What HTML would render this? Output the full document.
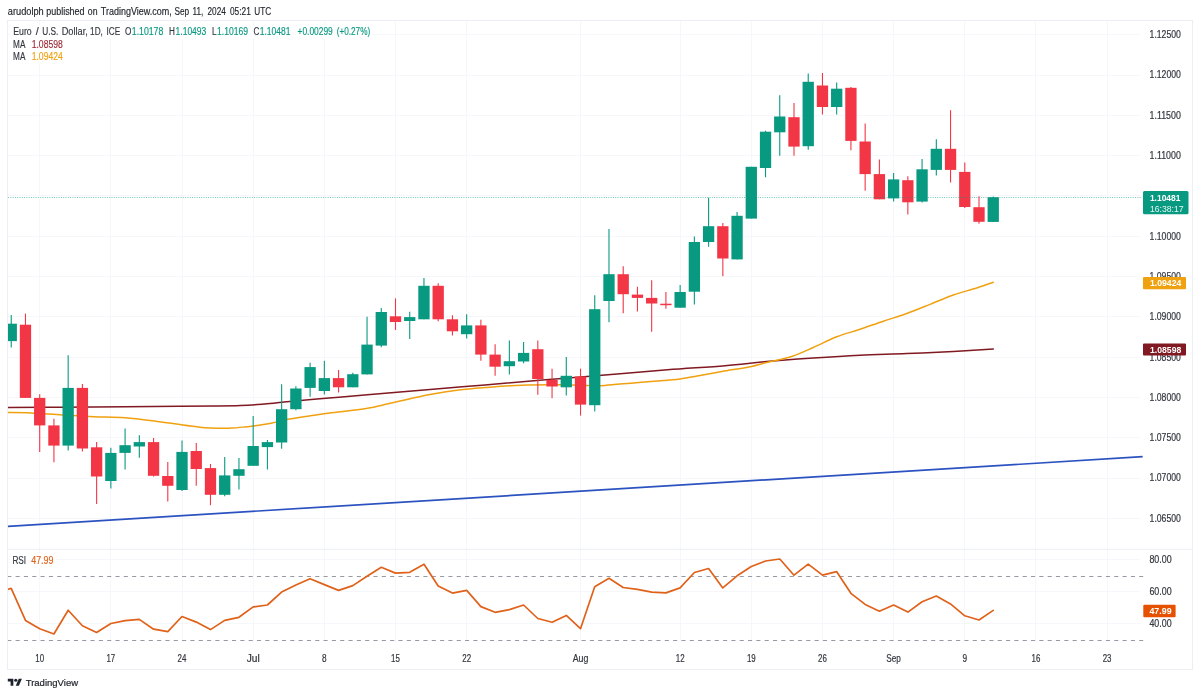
<!DOCTYPE html>
<html lang="en"><head><meta charset="utf-8"><title>EURUSD chart</title>
<style>
html,body{margin:0;padding:0;background:#fff;}
body{width:1200px;height:696px;overflow:hidden;position:relative;font-family:"Liberation Sans",Arial,sans-serif;}
svg{position:absolute;left:0;top:0;display:block;will-change:transform;opacity:.999}
text{font-family:"Liberation Sans",Arial,sans-serif;}
</style></head><body>
<svg width="1200" height="696" viewBox="0 0 1200 696">
<rect x="0" y="0" width="1200" height="696" fill="#ffffff"/>
<g stroke="#f6f7fb" stroke-width="1" shape-rendering="crispEdges">
<line x1="8" y1="34.7" x2="1140" y2="34.7"/>
<line x1="8" y1="75.0" x2="1140" y2="75.0"/>
<line x1="8" y1="115.3" x2="1140" y2="115.3"/>
<line x1="8" y1="155.6" x2="1140" y2="155.6"/>
<line x1="8" y1="195.9" x2="1140" y2="195.9"/>
<line x1="8" y1="236.2" x2="1140" y2="236.2"/>
<line x1="8" y1="276.5" x2="1140" y2="276.5"/>
<line x1="8" y1="316.8" x2="1140" y2="316.8"/>
<line x1="8" y1="357.1" x2="1140" y2="357.1"/>
<line x1="8" y1="397.4" x2="1140" y2="397.4"/>
<line x1="8" y1="437.7" x2="1140" y2="437.7"/>
<line x1="8" y1="478.0" x2="1140" y2="478.0"/>
<line x1="8" y1="518.3" x2="1140" y2="518.3"/>
<line x1="8" y1="559.5" x2="1140" y2="559.5"/>
<line x1="8" y1="591.5" x2="1140" y2="591.5"/>
<line x1="8" y1="623.5" x2="1140" y2="623.5"/>
</g>
<g stroke="#f6f7fb" stroke-width="1" shape-rendering="crispEdges">
<line x1="39.70" y1="21" x2="39.70" y2="642"/>
<line x1="110.86" y1="21" x2="110.86" y2="642"/>
<line x1="182.02" y1="21" x2="182.02" y2="642"/>
<line x1="253.18" y1="21" x2="253.18" y2="642"/>
<line x1="324.34" y1="21" x2="324.34" y2="642"/>
<line x1="395.50" y1="21" x2="395.50" y2="642"/>
<line x1="466.66" y1="21" x2="466.66" y2="642"/>
<line x1="580.52" y1="21" x2="580.52" y2="642"/>
<line x1="680.14" y1="21" x2="680.14" y2="642"/>
<line x1="751.30" y1="21" x2="751.30" y2="642"/>
<line x1="822.46" y1="21" x2="822.46" y2="642"/>
<line x1="893.62" y1="21" x2="893.62" y2="642"/>
<line x1="964.78" y1="21" x2="964.78" y2="642"/>
<line x1="1035.94" y1="21" x2="1035.94" y2="642"/>
<line x1="1107.10" y1="21" x2="1107.10" y2="642"/>
</g>
<rect x="7.5" y="20.5" width="1185" height="649" fill="none" stroke="#eceef3" stroke-width="1"/>
<line x1="7.5" y1="549.3" x2="1192.5" y2="549.3" stroke="#eceef3" stroke-width="1"/>
<clipPath id="cp"><rect x="8" y="21" width="1135.5" height="527"/></clipPath>
<clipPath id="cr"><rect x="8" y="549.5" width="1135.5" height="95"/></clipPath>
<g clip-path="url(#cp)" fill="none" stroke-linejoin="round" stroke-linecap="round">
<path d="M7.50,407.50 C16.25,407.45 40.42,407.32 60.00,407.20 C79.58,407.08 105.00,406.95 125.00,406.80 C145.00,406.65 165.00,406.43 180.00,406.30 C195.00,406.17 204.93,406.13 215.00,406.00 C225.07,405.87 232.57,405.80 240.40,405.50 C248.23,405.20 254.70,404.77 262.00,404.20 C269.30,403.63 273.57,403.08 284.20,402.10 C294.83,401.12 311.92,399.52 325.80,398.30 C339.68,397.08 350.13,396.27 367.50,394.80 C384.87,393.33 410.42,391.13 430.00,389.50 C449.58,387.87 466.25,386.58 485.00,385.00 C503.75,383.42 522.50,381.67 542.50,380.00 C562.50,378.33 584.17,376.70 605.00,375.00 C625.83,373.30 647.50,371.35 667.50,369.80 C687.50,368.25 708.47,367.07 725.00,365.70 C741.53,364.33 751.98,362.88 766.70,361.60 C781.42,360.32 797.75,359.07 813.30,358.00 C828.85,356.93 844.43,355.93 860.00,355.20 C875.57,354.47 891.15,354.23 906.70,353.60 C922.25,352.97 938.87,352.18 953.30,351.40 C967.73,350.62 986.63,349.32 993.30,348.90" stroke="#801922" stroke-width="1.5"/>
<path d="M7.50,412.50 C11.42,412.57 21.83,412.48 31.00,412.90 C40.17,413.32 52.00,414.37 62.50,415.00 C73.00,415.63 83.58,416.23 94.00,416.70 C104.42,417.17 114.67,417.05 125.00,417.80 C135.33,418.55 146.83,420.07 156.00,421.20 C165.17,422.33 172.67,423.60 180.00,424.60 C187.33,425.60 194.83,426.63 200.00,427.20 C205.17,427.77 207.33,427.82 211.00,428.00 C214.67,428.18 218.50,428.28 222.00,428.30 C225.50,428.32 228.17,428.33 232.00,428.10 C235.83,427.87 241.50,427.25 245.00,426.90 C248.50,426.55 248.67,426.60 253.00,426.00 C257.33,425.40 265.83,424.30 271.00,423.30 C276.17,422.30 278.75,421.05 284.00,420.00 C289.25,418.95 295.53,418.08 302.50,417.00 C309.47,415.92 318.43,414.50 325.80,413.50 C333.17,412.50 339.75,411.87 346.70,411.00 C353.65,410.13 360.57,409.51 367.50,408.30 C374.43,407.09 381.35,405.30 388.30,403.75 C395.25,402.20 402.25,400.56 409.20,399.00 C416.15,397.44 421.75,395.90 430.00,394.40 C438.25,392.90 449.53,391.13 458.70,390.00 C467.87,388.87 474.50,388.40 485.00,387.60 C495.50,386.80 508.70,385.67 521.70,385.20 C534.70,384.73 551.62,384.73 563.00,384.80 C574.38,384.87 583.00,385.50 590.00,385.60 C597.00,385.70 597.33,385.88 605.00,385.40 C612.67,384.92 625.58,383.57 636.00,382.70 C646.42,381.83 660.17,380.82 667.50,380.20 C674.83,379.58 674.80,379.73 680.00,379.00 C685.20,378.27 691.70,377.05 698.70,375.80 C705.70,374.55 713.40,373.02 722.00,371.50 C730.60,369.98 742.85,368.20 750.30,366.70 C757.75,365.20 759.70,364.25 766.70,362.50 C773.70,360.75 784.53,358.70 792.30,356.20 C800.07,353.70 805.90,350.73 813.30,347.50 C820.70,344.27 828.92,339.83 836.70,336.80 C844.48,333.77 852.23,331.90 860.00,329.30 C867.77,326.70 875.52,323.83 883.30,321.20 C891.08,318.57 898.92,316.30 906.70,313.50 C914.48,310.70 922.23,307.48 930.00,304.40 C937.77,301.32 945.52,297.73 953.30,295.00 C961.08,292.27 970.03,290.13 976.70,288.00 C983.37,285.87 990.53,283.17 993.30,282.20" stroke="#f0a10f" stroke-width="1.5"/>
</g>
<line x1="7.5" y1="526.4" x2="1142.7" y2="456.7" stroke="#2b52c0" stroke-width="1.7" clip-path="url(#cp)"/>
<g clip-path="url(#cp)">
<line x1="11.24" y1="314.9" x2="11.24" y2="347.4" stroke="#089981" stroke-width="1.1"/>
<rect x="5.59" y="323.7" width="11.3" height="17.4" fill="#089981"/>
<line x1="25.47" y1="313.6" x2="25.47" y2="397.9" stroke="#f23645" stroke-width="1.1"/>
<rect x="19.82" y="324.7" width="11.3" height="73.2" fill="#f23645"/>
<line x1="39.70" y1="394.2" x2="39.70" y2="451.9" stroke="#f23645" stroke-width="1.1"/>
<rect x="34.05" y="397.9" width="11.3" height="27.5" fill="#f23645"/>
<line x1="53.93" y1="418.8" x2="53.93" y2="462.3" stroke="#f23645" stroke-width="1.1"/>
<rect x="48.28" y="425.4" width="11.3" height="20.2" fill="#f23645"/>
<line x1="68.16" y1="355.3" x2="68.16" y2="450.4" stroke="#089981" stroke-width="1.1"/>
<rect x="62.51" y="387.9" width="11.3" height="57.7" fill="#089981"/>
<line x1="82.40" y1="384.1" x2="82.40" y2="451.5" stroke="#f23645" stroke-width="1.1"/>
<rect x="76.75" y="387.9" width="11.3" height="60.6" fill="#f23645"/>
<line x1="96.63" y1="442.1" x2="96.63" y2="504.0" stroke="#f23645" stroke-width="1.1"/>
<rect x="90.98" y="447.3" width="11.3" height="29.2" fill="#f23645"/>
<line x1="110.86" y1="447.7" x2="110.86" y2="488.5" stroke="#089981" stroke-width="1.1"/>
<rect x="105.21" y="452.9" width="11.3" height="28.1" fill="#089981"/>
<line x1="125.09" y1="428.5" x2="125.09" y2="469.6" stroke="#089981" stroke-width="1.1"/>
<rect x="119.44" y="445.2" width="11.3" height="7.7" fill="#089981"/>
<line x1="139.32" y1="435.2" x2="139.32" y2="457.7" stroke="#089981" stroke-width="1.1"/>
<rect x="133.67" y="442.1" width="11.3" height="4.4" fill="#089981"/>
<line x1="153.56" y1="437.9" x2="153.56" y2="476.5" stroke="#f23645" stroke-width="1.1"/>
<rect x="147.91" y="442.1" width="11.3" height="33.7" fill="#f23645"/>
<line x1="167.79" y1="461.9" x2="167.79" y2="501.5" stroke="#f23645" stroke-width="1.1"/>
<rect x="162.14" y="476.0" width="11.3" height="9.8" fill="#f23645"/>
<line x1="182.02" y1="440.6" x2="182.02" y2="491.0" stroke="#089981" stroke-width="1.1"/>
<rect x="176.37" y="451.9" width="11.3" height="38.1" fill="#089981"/>
<line x1="196.25" y1="443.1" x2="196.25" y2="485.8" stroke="#f23645" stroke-width="1.1"/>
<rect x="190.60" y="451.0" width="11.3" height="18.0" fill="#f23645"/>
<line x1="210.48" y1="464.0" x2="210.48" y2="505.2" stroke="#f23645" stroke-width="1.1"/>
<rect x="204.83" y="468.1" width="11.3" height="26.7" fill="#f23645"/>
<line x1="224.72" y1="457.1" x2="224.72" y2="496.2" stroke="#089981" stroke-width="1.1"/>
<rect x="219.07" y="475.4" width="11.3" height="19.4" fill="#089981"/>
<line x1="238.95" y1="458.1" x2="238.95" y2="489.6" stroke="#089981" stroke-width="1.1"/>
<rect x="233.30" y="469.2" width="11.3" height="6.6" fill="#089981"/>
<line x1="253.18" y1="416.0" x2="253.18" y2="465.8" stroke="#089981" stroke-width="1.1"/>
<rect x="247.53" y="446.0" width="11.3" height="19.8" fill="#089981"/>
<line x1="267.41" y1="440.0" x2="267.41" y2="469.6" stroke="#089981" stroke-width="1.1"/>
<rect x="261.76" y="442.1" width="11.3" height="5.0" fill="#089981"/>
<line x1="281.64" y1="384.2" x2="281.64" y2="448.7" stroke="#089981" stroke-width="1.1"/>
<rect x="275.99" y="409.2" width="11.3" height="33.3" fill="#089981"/>
<line x1="295.88" y1="386.2" x2="295.88" y2="410.2" stroke="#089981" stroke-width="1.1"/>
<rect x="290.23" y="388.5" width="11.3" height="20.7" fill="#089981"/>
<line x1="310.11" y1="362.7" x2="310.11" y2="396.7" stroke="#089981" stroke-width="1.1"/>
<rect x="304.46" y="367.1" width="11.3" height="20.8" fill="#089981"/>
<line x1="324.34" y1="360.8" x2="324.34" y2="394.6" stroke="#089981" stroke-width="1.1"/>
<rect x="318.69" y="378.1" width="11.3" height="12.9" fill="#089981"/>
<line x1="338.57" y1="370.0" x2="338.57" y2="392.5" stroke="#f23645" stroke-width="1.1"/>
<rect x="332.92" y="378.1" width="11.3" height="9.2" fill="#f23645"/>
<line x1="352.80" y1="372.7" x2="352.80" y2="387.3" stroke="#089981" stroke-width="1.1"/>
<rect x="347.15" y="374.2" width="11.3" height="13.1" fill="#089981"/>
<line x1="367.04" y1="316.8" x2="367.04" y2="374.4" stroke="#089981" stroke-width="1.1"/>
<rect x="361.39" y="344.6" width="11.3" height="29.8" fill="#089981"/>
<line x1="381.27" y1="307.9" x2="381.27" y2="347.3" stroke="#089981" stroke-width="1.1"/>
<rect x="375.62" y="312.0" width="11.3" height="33.6" fill="#089981"/>
<line x1="395.50" y1="298.4" x2="395.50" y2="330.0" stroke="#f23645" stroke-width="1.1"/>
<rect x="389.85" y="316.3" width="11.3" height="5.7" fill="#f23645"/>
<line x1="409.73" y1="311.7" x2="409.73" y2="338.9" stroke="#089981" stroke-width="1.1"/>
<rect x="404.08" y="317.1" width="11.3" height="3.9" fill="#089981"/>
<line x1="423.96" y1="277.9" x2="423.96" y2="319.3" stroke="#089981" stroke-width="1.1"/>
<rect x="418.31" y="285.8" width="11.3" height="33.5" fill="#089981"/>
<line x1="438.20" y1="283.3" x2="438.20" y2="321.2" stroke="#f23645" stroke-width="1.1"/>
<rect x="432.55" y="285.8" width="11.3" height="33.5" fill="#f23645"/>
<line x1="452.43" y1="315.2" x2="452.43" y2="335.4" stroke="#f23645" stroke-width="1.1"/>
<rect x="446.78" y="319.3" width="11.3" height="12.0" fill="#f23645"/>
<line x1="466.66" y1="314.3" x2="466.66" y2="338.6" stroke="#089981" stroke-width="1.1"/>
<rect x="461.01" y="325.4" width="11.3" height="8.8" fill="#089981"/>
<line x1="480.89" y1="319.7" x2="480.89" y2="360.8" stroke="#f23645" stroke-width="1.1"/>
<rect x="475.24" y="325.4" width="11.3" height="29.2" fill="#f23645"/>
<line x1="495.12" y1="344.2" x2="495.12" y2="375.8" stroke="#f23645" stroke-width="1.1"/>
<rect x="489.47" y="354.6" width="11.3" height="12.1" fill="#f23645"/>
<line x1="509.36" y1="340.6" x2="509.36" y2="374.4" stroke="#089981" stroke-width="1.1"/>
<rect x="503.71" y="361.2" width="11.3" height="5.0" fill="#089981"/>
<line x1="523.59" y1="342.1" x2="523.59" y2="363.3" stroke="#089981" stroke-width="1.1"/>
<rect x="517.94" y="352.9" width="11.3" height="8.6" fill="#089981"/>
<line x1="537.82" y1="340.6" x2="537.82" y2="394.8" stroke="#f23645" stroke-width="1.1"/>
<rect x="532.17" y="349.2" width="11.3" height="29.8" fill="#f23645"/>
<line x1="552.05" y1="368.7" x2="552.05" y2="398.3" stroke="#f23645" stroke-width="1.1"/>
<rect x="546.40" y="380.0" width="11.3" height="6.5" fill="#f23645"/>
<line x1="566.28" y1="357.1" x2="566.28" y2="395.6" stroke="#089981" stroke-width="1.1"/>
<rect x="560.63" y="375.8" width="11.3" height="11.5" fill="#089981"/>
<line x1="580.52" y1="368.7" x2="580.52" y2="415.6" stroke="#f23645" stroke-width="1.1"/>
<rect x="574.87" y="376.5" width="11.3" height="28.1" fill="#f23645"/>
<line x1="594.75" y1="295.2" x2="594.75" y2="411.5" stroke="#089981" stroke-width="1.1"/>
<rect x="589.10" y="309.2" width="11.3" height="96.0" fill="#089981"/>
<line x1="608.98" y1="229.0" x2="608.98" y2="322.3" stroke="#089981" stroke-width="1.1"/>
<rect x="603.33" y="274.2" width="11.3" height="26.8" fill="#089981"/>
<line x1="623.21" y1="266.3" x2="623.21" y2="313.3" stroke="#f23645" stroke-width="1.1"/>
<rect x="617.56" y="274.2" width="11.3" height="20.0" fill="#f23645"/>
<line x1="637.44" y1="286.8" x2="637.44" y2="311.5" stroke="#f23645" stroke-width="1.1"/>
<rect x="631.79" y="294.6" width="11.3" height="3.3" fill="#f23645"/>
<line x1="651.68" y1="280.2" x2="651.68" y2="331.7" stroke="#f23645" stroke-width="1.1"/>
<rect x="646.03" y="297.9" width="11.3" height="5.6" fill="#f23645"/>
<line x1="665.91" y1="292.0" x2="665.91" y2="308.7" stroke="#f23645" stroke-width="1.1"/>
<rect x="660.26" y="303.7" width="11.3" height="1.5" fill="#f23645"/>
<line x1="680.14" y1="284.9" x2="680.14" y2="307.7" stroke="#089981" stroke-width="1.1"/>
<rect x="674.49" y="292.0" width="11.3" height="15.7" fill="#089981"/>
<line x1="694.37" y1="236.6" x2="694.37" y2="304.6" stroke="#089981" stroke-width="1.1"/>
<rect x="688.72" y="242.0" width="11.3" height="49.7" fill="#089981"/>
<line x1="708.60" y1="197.8" x2="708.60" y2="246.8" stroke="#089981" stroke-width="1.1"/>
<rect x="702.95" y="226.2" width="11.3" height="15.8" fill="#089981"/>
<line x1="722.84" y1="223.0" x2="722.84" y2="276.2" stroke="#f23645" stroke-width="1.1"/>
<rect x="717.19" y="226.2" width="11.3" height="32.3" fill="#f23645"/>
<line x1="737.07" y1="212.0" x2="737.07" y2="259.4" stroke="#089981" stroke-width="1.1"/>
<rect x="731.42" y="215.8" width="11.3" height="43.6" fill="#089981"/>
<line x1="751.30" y1="166.8" x2="751.30" y2="218.6" stroke="#089981" stroke-width="1.1"/>
<rect x="745.65" y="166.8" width="11.3" height="51.8" fill="#089981"/>
<line x1="765.53" y1="130.7" x2="765.53" y2="177.2" stroke="#089981" stroke-width="1.1"/>
<rect x="759.88" y="131.7" width="11.3" height="36.3" fill="#089981"/>
<line x1="779.76" y1="95.3" x2="779.76" y2="155.7" stroke="#089981" stroke-width="1.1"/>
<rect x="774.11" y="116.5" width="11.3" height="15.8" fill="#089981"/>
<line x1="794.00" y1="102.9" x2="794.00" y2="155.7" stroke="#f23645" stroke-width="1.1"/>
<rect x="788.35" y="117.2" width="11.3" height="29.4" fill="#f23645"/>
<line x1="808.23" y1="73.5" x2="808.23" y2="149.7" stroke="#089981" stroke-width="1.1"/>
<rect x="802.58" y="81.8" width="11.3" height="64.4" fill="#089981"/>
<line x1="822.46" y1="72.9" x2="822.46" y2="114.6" stroke="#f23645" stroke-width="1.1"/>
<rect x="816.81" y="85.5" width="11.3" height="21.5" fill="#f23645"/>
<line x1="836.69" y1="82.4" x2="836.69" y2="114.6" stroke="#089981" stroke-width="1.1"/>
<rect x="831.04" y="88.7" width="11.3" height="18.3" fill="#089981"/>
<line x1="850.92" y1="87.1" x2="850.92" y2="150.3" stroke="#f23645" stroke-width="1.1"/>
<rect x="845.27" y="87.8" width="11.3" height="53.1" fill="#f23645"/>
<line x1="865.16" y1="123.5" x2="865.16" y2="190.8" stroke="#f23645" stroke-width="1.1"/>
<rect x="859.51" y="141.5" width="11.3" height="32.6" fill="#f23645"/>
<line x1="879.39" y1="159.5" x2="879.39" y2="199.3" stroke="#f23645" stroke-width="1.1"/>
<rect x="873.74" y="174.1" width="11.3" height="25.2" fill="#f23645"/>
<line x1="893.62" y1="173.1" x2="893.62" y2="201.6" stroke="#089981" stroke-width="1.1"/>
<rect x="887.97" y="179.4" width="11.3" height="19.0" fill="#089981"/>
<line x1="907.85" y1="176.3" x2="907.85" y2="214.5" stroke="#f23645" stroke-width="1.1"/>
<rect x="902.20" y="180.2" width="11.3" height="22.1" fill="#f23645"/>
<line x1="922.08" y1="158.9" x2="922.08" y2="202.5" stroke="#089981" stroke-width="1.1"/>
<rect x="916.43" y="169.3" width="11.3" height="32.3" fill="#089981"/>
<line x1="936.32" y1="139.3" x2="936.32" y2="175.6" stroke="#089981" stroke-width="1.1"/>
<rect x="930.67" y="148.8" width="11.3" height="21.1" fill="#089981"/>
<line x1="950.55" y1="110.2" x2="950.55" y2="182.6" stroke="#f23645" stroke-width="1.1"/>
<rect x="944.90" y="148.8" width="11.3" height="21.1" fill="#f23645"/>
<line x1="964.78" y1="162.4" x2="964.78" y2="207.9" stroke="#f23645" stroke-width="1.1"/>
<rect x="959.13" y="171.9" width="11.3" height="35.1" fill="#f23645"/>
<line x1="979.01" y1="196.2" x2="979.01" y2="223.7" stroke="#f23645" stroke-width="1.1"/>
<rect x="973.36" y="207.2" width="11.3" height="14.6" fill="#f23645"/>
<line x1="993.24" y1="196.5" x2="993.24" y2="221.9" stroke="#089981" stroke-width="1.1"/>
<rect x="987.59" y="197.2" width="11.3" height="24.7" fill="#089981"/>
</g>
<line x1="8" y1="197.5" x2="1142" y2="197.5" stroke="#089981" stroke-width="1" stroke-dasharray="1 1.3" stroke-opacity="0.55"/>
<g stroke="#979aa3" stroke-width="1" stroke-dasharray="4.1 4.223">
<line x1="7.27" y1="576.5" x2="1143.5" y2="576.5" clip-path="url(#cr)"/>
<line x1="7.27" y1="640.5" x2="1143.5" y2="640.5" clip-path="url(#cr)"/>
</g>
<polyline clip-path="url(#cr)" points="7.5,589.6 11.2,588.3 25.5,620.4 39.7,628.7 53.9,634.0 68.2,610.2 82.4,625.8 96.6,632.5 110.9,623.5 125.1,620.6 139.3,619.4 153.6,629.2 167.8,631.7 182.0,616.5 196.3,622.1 210.5,629.6 224.7,620.4 238.9,617.3 253.2,606.9 267.4,605.0 281.6,592.1 295.9,585.0 310.1,578.7 324.3,584.6 338.6,590.4 352.8,585.6 367.0,576.2 381.3,567.3 395.5,573.1 409.7,572.3 424.0,564.2 438.2,586.0 452.4,593.1 466.7,590.4 480.9,606.6 495.1,612.3 509.4,609.6 523.6,605.0 537.8,618.5 552.1,622.3 566.3,615.4 580.5,628.7 594.7,586.7 609.0,578.3 623.2,587.5 637.4,589.4 651.7,592.1 665.9,592.9 680.1,587.9 694.4,572.5 708.6,568.5 722.8,587.9 737.1,575.8 751.3,566.5 765.5,561.0 779.8,559.0 794.0,575.2 808.2,564.2 822.5,575.2 836.7,571.7 850.9,593.3 865.2,604.4 879.4,611.2 893.6,605.0 907.9,612.1 922.1,601.7 936.3,596.0 950.5,603.9 964.8,615.8 979.0,620.0 993.2,610.4" fill="none" stroke="#e0621a" stroke-width="1.7" stroke-linejoin="round" stroke-linecap="round"/>
<g font-size="10.0" fill="#33363f" stroke="#33363f" stroke-width="0.2" text-anchor="start">
<text x="1149.6" y="38.1" textLength="31.2" lengthAdjust="spacingAndGlyphs">1.12500</text>
<text x="1149.6" y="78.4" textLength="31.2" lengthAdjust="spacingAndGlyphs">1.12000</text>
<text x="1149.6" y="118.7" textLength="31.2" lengthAdjust="spacingAndGlyphs">1.11500</text>
<text x="1149.6" y="159.0" textLength="31.2" lengthAdjust="spacingAndGlyphs">1.11000</text>
<text x="1149.6" y="199.3" textLength="31.2" lengthAdjust="spacingAndGlyphs">1.10500</text>
<text x="1149.6" y="239.6" textLength="31.2" lengthAdjust="spacingAndGlyphs">1.10000</text>
<text x="1149.6" y="279.9" textLength="31.2" lengthAdjust="spacingAndGlyphs">1.09500</text>
<text x="1149.6" y="320.2" textLength="31.2" lengthAdjust="spacingAndGlyphs">1.09000</text>
<text x="1149.6" y="360.5" textLength="31.2" lengthAdjust="spacingAndGlyphs">1.08500</text>
<text x="1149.6" y="400.8" textLength="31.2" lengthAdjust="spacingAndGlyphs">1.08000</text>
<text x="1149.6" y="441.1" textLength="31.2" lengthAdjust="spacingAndGlyphs">1.07500</text>
<text x="1149.6" y="481.4" textLength="31.2" lengthAdjust="spacingAndGlyphs">1.07000</text>
<text x="1149.6" y="521.7" textLength="31.2" lengthAdjust="spacingAndGlyphs">1.06500</text>
<text x="1149.4" y="563.0" textLength="22.2" lengthAdjust="spacingAndGlyphs">80.00</text>
<text x="1149.4" y="594.8" textLength="22.2" lengthAdjust="spacingAndGlyphs">60.00</text>
<text x="1149.4" y="627.1" textLength="22.2" lengthAdjust="spacingAndGlyphs">40.00</text>
</g>
<g font-size="10.0" fill="#33363f" stroke="#33363f" stroke-width="0.2" text-anchor="middle">
<text x="39.70" y="662.2" textLength="8.8" lengthAdjust="spacingAndGlyphs">10</text>
<text x="110.86" y="662.2" textLength="8.8" lengthAdjust="spacingAndGlyphs">17</text>
<text x="182.02" y="662.2" textLength="8.8" lengthAdjust="spacingAndGlyphs">24</text>
<text x="253.18" y="662.2" textLength="13.0" lengthAdjust="spacingAndGlyphs">Jul</text>
<text x="324.34" y="662.2" textLength="4.6" lengthAdjust="spacingAndGlyphs">8</text>
<text x="395.50" y="662.2" textLength="8.8" lengthAdjust="spacingAndGlyphs">15</text>
<text x="466.66" y="662.2" textLength="8.8" lengthAdjust="spacingAndGlyphs">22</text>
<text x="580.52" y="662.2" textLength="15.6" lengthAdjust="spacingAndGlyphs">Aug</text>
<text x="680.14" y="662.2" textLength="8.8" lengthAdjust="spacingAndGlyphs">12</text>
<text x="751.30" y="662.2" textLength="8.8" lengthAdjust="spacingAndGlyphs">19</text>
<text x="822.46" y="662.2" textLength="8.8" lengthAdjust="spacingAndGlyphs">26</text>
<text x="893.62" y="662.2" textLength="14.6" lengthAdjust="spacingAndGlyphs">Sep</text>
<text x="964.78" y="662.2" textLength="4.6" lengthAdjust="spacingAndGlyphs">9</text>
<text x="1035.94" y="662.2" textLength="8.8" lengthAdjust="spacingAndGlyphs">16</text>
<text x="1107.10" y="662.2" textLength="8.8" lengthAdjust="spacingAndGlyphs">23</text>
</g>
<rect x="1143" y="191" width="45.5" height="23.3" rx="1.5" fill="#089981"/>
<text x="1149.9" y="200.8" font-size="9.3" font-weight="bold" fill="#fff" textLength="30.6" lengthAdjust="spacingAndGlyphs">1.10481</text>
<text x="1149.9" y="211.8" font-size="9.3" fill="#e6f6f2" textLength="33.7" lengthAdjust="spacingAndGlyphs">16:38:17</text>
<rect x="1143" y="277" width="43" height="12.2" rx="1" fill="#f0a10f"/>
<text x="1150" y="286.4" font-size="9.3" font-weight="bold" fill="#fff" textLength="31.3" lengthAdjust="spacingAndGlyphs">1.09424</text>
<rect x="1143" y="343.4" width="43" height="12.2" rx="1" fill="#801922"/>
<text x="1150" y="352.7" font-size="9.3" font-weight="bold" fill="#fff" textLength="31.3" lengthAdjust="spacingAndGlyphs">1.08598</text>
<rect x="1143.3" y="604.8" width="32.3" height="12.5" rx="1" fill="#e65100"/>
<text x="1149.4" y="614.3" font-size="9.3" font-weight="bold" fill="#fff" textLength="22.2" lengthAdjust="spacingAndGlyphs">47.99</text>
<rect x="10" y="25" width="362" height="14" fill="#fff"/>
<rect x="10" y="39" width="56" height="25" fill="#fff"/>
<rect x="10" y="554" width="46" height="14" fill="#fff"/>
<g font-size="10.0" stroke-width="0.15">
<text x="7.8" y="14.6" fill="#23262e" stroke="#23262e" textLength="35.9" lengthAdjust="spacingAndGlyphs">arudolph</text>
<text x="46.3" y="14.6" fill="#23262e" stroke="#23262e" textLength="38.2" lengthAdjust="spacingAndGlyphs">published</text>
<text x="87.8" y="14.6" fill="#23262e" stroke="#23262e" textLength="9.7" lengthAdjust="spacingAndGlyphs">on</text>
<text x="100.8" y="14.6" fill="#23262e" stroke="#23262e" textLength="70.9" lengthAdjust="spacingAndGlyphs">TradingView.com,</text>
<text x="174.5" y="14.6" fill="#23262e" stroke="#23262e" textLength="14.6" lengthAdjust="spacingAndGlyphs">Sep</text>
<text x="192.6" y="14.6" fill="#23262e" stroke="#23262e" textLength="10.8" lengthAdjust="spacingAndGlyphs">11,</text>
<text x="207.5" y="14.6" fill="#23262e" stroke="#23262e" textLength="18.3" lengthAdjust="spacingAndGlyphs">2024</text>
<text x="230.0" y="14.6" fill="#23262e" stroke="#23262e" textLength="20.8" lengthAdjust="spacingAndGlyphs">05:21</text>
<text x="254.3" y="14.6" fill="#23262e" stroke="#23262e" textLength="16.9" lengthAdjust="spacingAndGlyphs">UTC</text>
<text x="13.3" y="35.0" fill="#33363f" stroke="#33363f" textLength="18.4" lengthAdjust="spacingAndGlyphs">Euro</text>
<text x="35.8" y="35.0" fill="#33363f" stroke="#33363f" textLength="3.0" lengthAdjust="spacingAndGlyphs">/</text>
<text x="42.2" y="35.0" fill="#33363f" stroke="#33363f" textLength="16.1" lengthAdjust="spacingAndGlyphs">U.S.</text>
<text x="61.7" y="35.0" fill="#33363f" stroke="#33363f" textLength="26.1" lengthAdjust="spacingAndGlyphs">Dollar,</text>
<text x="90.1" y="35.0" fill="#33363f" stroke="#33363f" textLength="12.8" lengthAdjust="spacingAndGlyphs">1D,</text>
<text x="106.5" y="35.0" fill="#33363f" stroke="#33363f" textLength="13.7" lengthAdjust="spacingAndGlyphs">ICE</text>
<text x="125.0" y="35.0" fill="#33363f" stroke="#33363f" textLength="6.4" lengthAdjust="spacingAndGlyphs">O</text>
<text x="168.9" y="35.0" fill="#33363f" stroke="#33363f" textLength="5.9" lengthAdjust="spacingAndGlyphs">H</text>
<text x="212.0" y="35.0" fill="#33363f" stroke="#33363f" textLength="4.6" lengthAdjust="spacingAndGlyphs">L</text>
<text x="253.4" y="35.0" fill="#33363f" stroke="#33363f" textLength="5.9" lengthAdjust="spacingAndGlyphs">C</text>
<text x="131.8" y="35.0" fill="#089981" stroke="#089981" textLength="31.5" lengthAdjust="spacingAndGlyphs">1.10178</text>
<text x="175.6" y="35.0" fill="#089981" stroke="#089981" textLength="30.7" lengthAdjust="spacingAndGlyphs">1.10493</text>
<text x="217.0" y="35.0" fill="#089981" stroke="#089981" textLength="31.0" lengthAdjust="spacingAndGlyphs">1.10169</text>
<text x="259.7" y="35.0" fill="#089981" stroke="#089981" textLength="30.7" lengthAdjust="spacingAndGlyphs">1.10481</text>
<text x="297.5" y="35.0" fill="#089981" stroke="#089981" textLength="35.3" lengthAdjust="spacingAndGlyphs">+0.00299</text>
<text x="336.7" y="35.0" fill="#089981" stroke="#089981" textLength="33.5" lengthAdjust="spacingAndGlyphs">(+0.27%)</text>
<text x="13.1" y="47.5" fill="#33363f" stroke="#33363f" textLength="12.3" lengthAdjust="spacingAndGlyphs">MA</text>
<text x="31.7" y="47.5" fill="#9c2836" stroke="#9c2836" textLength="31.1" lengthAdjust="spacingAndGlyphs">1.08598</text>
<text x="13.1" y="60.0" fill="#33363f" stroke="#33363f" textLength="12.3" lengthAdjust="spacingAndGlyphs">MA</text>
<text x="31.7" y="60.0" fill="#f0a10f" stroke="#f0a10f" textLength="31.1" lengthAdjust="spacingAndGlyphs">1.09424</text>
<text x="12.4" y="563.8" fill="#33363f" stroke="#33363f" textLength="13.7" lengthAdjust="spacingAndGlyphs">RSI</text>
<text x="31.2" y="563.8" fill="#e0621a" stroke="#e0621a" textLength="22.3" lengthAdjust="spacingAndGlyphs">47.99</text>
</g>
<g transform="translate(7.8,677.05) scale(0.397)" fill="#1e222d"><path d="M14 22H7V11H0V4h14v18z"/><path d="M28 22h-8l7.5-18h8L28 22z"/><circle cx="20" cy="8" r="4"/></g>
<text x="25.7" y="685.8" font-size="9.5" fill="#23262e" stroke="#23262e" stroke-width="0.2" textLength="52.4" lengthAdjust="spacingAndGlyphs">TradingView</text>
</svg></body></html>
